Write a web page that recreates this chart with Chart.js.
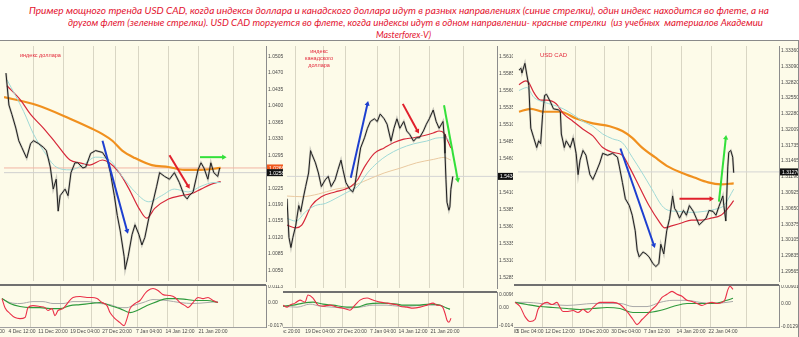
<!DOCTYPE html>
<html>
<head>
<meta charset="utf-8">
<script src="https://cdn.jsdelivr.net/npm/chart.js@4.4.0/dist/chart.umd.min.js"></script>
<style>
  html, body { margin: 0; padding: 0; background: #fff; }
  #wrap { position: relative; width: 799px; height: 337px; overflow: hidden; background: #fff; font-family: "Liberation Sans", Arial, sans-serif; }
  #area { position: absolute; left: 0; top: 40px; width: 799px; height: 297px; background: #fdfbe9; border-top: 1px solid #8a8a8a; }
  .t { position: absolute; white-space: pre; color: #e3132f; font-family: Lato, "Open Sans", sans-serif; font-style: italic; font-size: 10px; line-height: 12px; transform-origin: 0 0; }
  canvas { position: absolute; }
  .note { position: absolute; color: #e3283a; font-size: 5.5px; line-height: 7px; text-align: center; white-space: pre; }
  .sep { position: absolute; height: 2px; background: #707070; }
</style>
</head>
<body>
<div id="wrap">
  <div id="area"></div>
  <div class="t" data-x="29" data-w="740" style="top:4px">Пример мощного тренда USD CAD, когда индексы доллара и канадского доллара идут в разных направлениях (синие стрелки), один индекс находится во флете, а на</div>
  <div class="t" data-x="68" data-w="695" style="top:16px">другом флет (зеленые стрелки). USD CAD торгуется во флете, когда индексы идут в одном направлении- красные стрелки  (из учебных  материалов Академии</div>
  <div class="t" data-x="376" data-w="55" style="top:28px">Masterforex-V)</div>

  <canvas id="m1" width="283" height="243" style="left:0;top:42px"></canvas>
  <canvas id="o1" width="283" height="52" style="left:0;top:285px"></canvas>
  <canvas id="m2" width="230" height="250" style="left:283px;top:42px"></canvas>
  <canvas id="o2" width="230" height="45" style="left:283px;top:292px"></canvas>
  <canvas id="m3" width="285" height="243" style="left:514px;top:42px"></canvas>
  <canvas id="o3" width="285" height="52" style="left:514px;top:285px"></canvas>

  <div class="sep" style="left:0;top:284px;width:266px"></div>
  <div class="sep" style="left:283px;top:291px;width:214px"></div>
  <div class="sep" style="left:514px;top:284px;width:265px"></div>
  <div style="position:absolute;left:798px;top:41px;width:1px;height:296px;background:#8a8a8a"></div>

  <div class="note" style="left:20px;top:52px">индекс доллара</div>
  <div class="note" style="left:305px;top:48px">индекс
канадского
доллара</div>
  <div class="note" style="left:540px;top:52px;font-size:6px">USD CAD</div>
</div>

<script>
// ---- panel 1: dollar index ----
const p1Close = [[2,1.0470],[5,1.0402],[8,1.0382],[12,1.0353],[15,1.0326],[18,1.0312],[23,1.0289],[27,1.0320],[30,1.0326],[35,1.0320],[40,1.0312],[43,1.0305],[47,1.0270],[50,1.0223],[53,1.0244],[55,1.0176],[57,1.0209],[62,1.0223],[65,1.0209],[68,1.0258],[72,1.0279],[75,1.0279],[80,1.0268],[83,1.0270],[88,1.0299],[93,1.0305],[100,1.0301],[105,1.0285],[108,1.0258],[112,1.0209],[115,1.0167],[118,1.0134],[122,1.0079],[123,1.0052],[126,1.0079],[130,1.0126],[133,1.0147],[137,1.0126],[140,1.0104],[143,1.0120],[147,1.0161],[152,1.0202],[155,1.0229],[158,1.0258],[163,1.0250],[168,1.0244],[173,1.0258],[178,1.0237],[183,1.0209],[186,1.0202],[188,1.0209],[192,1.0217],[197,1.0264],[200,1.0279],[203,1.0268],[207,1.0244],[210,1.0279],[213,1.0258],[217,1.0250],[219,1.0268]];
const p1MaSlow = [[0,1.0419],[33,1.0402],[67,1.0373],[90,1.0351],[100,1.0340],[110,1.0326],[120,1.0305],[133,1.0289],[150,1.0274],[167,1.0270],[183,1.0264],[200,1.0264],[220,1.0268]];
const p1MaMid = [[3,1.0443],[17,1.0412],[27,1.0382],[40,1.0353],[53,1.0320],[67,1.0285],[77,1.0279],[87,1.0274],[100,1.0285],[107,1.0279],[117,1.0258],[127,1.0223],[137,1.0182],[145,1.0161],[153,1.0182],[167,1.0202],[180,1.0209],[190,1.0213],[200,1.0223],[210,1.0233],[220,1.0239]];
const p1MaFast = [[3,1.0456],[20,1.0388],[30,1.0340],[40,1.0305],[53,1.0270],[67,1.0264],[80,1.0274],[93,1.0291],[107,1.0285],[120,1.0250],[133,1.0217],[147,1.0196],[160,1.0209],[173,1.0223],[187,1.0217],[200,1.0229],[213,1.0237],[220,1.0237]];
const p1OscRed = [[2,0.0029],[5,-0.0037],[10,-0.0080],[15,-0.0109],[20,-0.0117],[25,-0.0109],[28,-0.0037],[33,-0.0022],[40,-0.0029],[45,-0.0037],[48,-0.0058],[52,-0.0044],[55,-0.0095],[58,-0.0058],[63,-0.0044],[68,0.0000],[73,0.0037],[80,0.0044],[87,0.0037],[92,0.0037],[97,0.0029],[102,0.0000],[107,-0.0022],[110,-0.0073],[115,-0.0117],[120,-0.0146],[124,-0.0168],[127,-0.0117],[130,-0.0044],[135,-0.0007],[140,0.0015],[145,0.0066],[148,0.0088],[153,0.0102],[158,0.0088],[163,0.0058],[170,0.0051],[175,0.0037],[180,0.0000],[185,-0.0022],[188,-0.0037],[193,0.0000],[198,0.0037],[203,0.0029],[208,0.0037],[213,0.0015],[218,0.0000]];
const p1OscGreen = [[2,0.0029],[10,-0.0007],[20,-0.0029],[30,-0.0037],[40,-0.0037],[50,-0.0044],[60,-0.0044],[70,-0.0022],[80,-0.0015],[90,-0.0007],[100,0.0000],[110,-0.0022],[120,-0.0044],[130,-0.0073],[137,-0.0058],[147,-0.0022],[157,0.0007],[167,0.0029],[177,0.0029],[187,0.0022],[197,0.0015],[207,0.0015],[218,0.0000]];
const p1OscGrey = [[2,0.0029],[10,0.0000],[20,-0.0007],[33,0.0007],[43,0.0007],[53,-0.0007],[63,-0.0007],[73,0.0007],[87,0.0007],[100,-0.0007],[110,-0.0015],[120,-0.0037],[127,-0.0037],[133,-0.0022],[143,0.0000],[153,0.0022],[167,0.0015],[180,0.0000],[193,-0.0007],[207,0.0000],[218,0.0007]];
const p1Ticks = [1.0505,1.0470,1.0435,1.0400,1.0365,1.0330,1.0295,1.0260,1.0225,1.0190,1.0155,1.0120,1.0085,1.0050];
const p1OscTicks = [0.01135, 0, -0.01707];
const p1OscText = ['0.01135', '0.00', '-0.01707'];
const p1Bid = [1.0268, 1.0258];
const p1GridX = [30,60,91,113,137,167,197,233];
const p1DateX = [2,22,53,85,117,149,180,213];
const p1DateText = ['00','4 Dec 12:00','11 Dec 20:00','19 Dec 04:00','27 Dec 20:00','7 Jan 04:00','14 Jan 12:00','21 Jan 20:00'];
const p1ArrowBlue = [100,1.0326,125,1.0134];
const p1ArrowRed = [168,1.0295,187,1.0229];
const p1ArrowGreen = [199,1.0291,223,1.0291];

// ---- panel 2: canadian dollar index ----
const p2Close = [[0,1.5401],[2,1.5344],[4,1.5329],[6,1.5344],[9,1.5362],[10,1.5372],[12,1.5391],[14,1.5382],[17,1.5405],[19,1.5419],[22,1.5439],[24,1.5472],[25,1.5468],[29,1.5454],[32,1.5439],[35,1.5419],[39,1.5429],[42,1.5434],[45,1.5419],[49,1.5429],[52,1.5444],[55,1.5458],[57,1.5444],[60,1.5425],[64,1.5415],[67,1.5411],[69,1.5419],[72,1.5448],[75,1.5476],[79,1.5491],[82,1.5505],[85,1.5515],[89,1.5519],[92,1.5515],[95,1.5526],[99,1.5519],[102,1.5511],[106,1.5486],[109,1.5505],[112,1.5519],[115,1.5505],[119,1.5515],[122,1.5501],[125,1.5496],[129,1.5486],[132,1.5491],[135,1.5491],[139,1.5501],[142,1.5511],[145,1.5519],[149,1.5532],[152,1.5515],[155,1.5505],[159,1.5515],[160,1.5496],[161,1.5468],[162,1.5429],[163,1.5396],[165,1.5384],[166,1.5389],[167,1.5415],[169,1.5434]];
const p2MaSlow = [[0,1.5405],[15,1.5404],[32,1.5408],[49,1.5415],[65,1.5419],[82,1.5429],[99,1.5439],[115,1.5446],[132,1.5454],[149,1.5459],[160,1.5462],[167,1.5458]];
const p2MaMid = [[0,1.5362],[9,1.5358],[15,1.5362],[25,1.5391],[35,1.5404],[49,1.5411],[59,1.5415],[65,1.5419],[72,1.5429],[79,1.5448],[89,1.5468],[99,1.5476],[109,1.5484],[119,1.5489],[129,1.5491],[139,1.5494],[149,1.5498],[155,1.5501],[160,1.5498],[164,1.5486],[167,1.5476]];
const p2MaFast = [[0,1.5372],[9,1.5368],[19,1.5382],[29,1.5391],[39,1.5394],[49,1.5401],[62,1.5411],[72,1.5419],[82,1.5439],[92,1.5454],[102,1.5465],[115,1.5475],[129,1.5482],[142,1.5486],[155,1.5491],[162,1.5491],[167,1.5482]];
const p2OscRed = [[0,0.0016],[4,0.0000],[7,0.0016],[12,0.0032],[17,0.0056],[22,0.0040],[25,0.0096],[30,0.0072],[35,0.0016],[40,0.0008],[47,0.0016],[54,0.0000],[60,-0.0008],[67,-0.0024],[72,0.0016],[77,0.0056],[84,0.0072],[90,0.0056],[97,0.0040],[104,0.0032],[110,0.0024],[115,0.0016],[117,0.0008],[124,0.0000],[130,-0.0008],[137,0.0000],[144,0.0016],[150,0.0032],[154,0.0016],[159,0.0008],[162,-0.0048],[164,-0.0104],[166,-0.0120],[168,-0.0088]];
const p2OscGreen = [[0,0.0008],[10,0.0016],[20,0.0032],[30,0.0040],[40,0.0024],[50,0.0016],[64,0.0000],[74,0.0000],[84,0.0024],[97,0.0032],[114,0.0024],[120,0.0016],[134,0.0016],[147,0.0024],[157,0.0016],[164,-0.0008],[167,-0.0016]];
const p2OscGrey = [[0,0.0008],[14,0.0000],[27,0.0024],[37,0.0008],[50,0.0000],[64,-0.0008],[77,0.0000],[90,0.0016],[104,0.0016],[115,0.0008],[127,0.0008],[140,0.0016],[154,0.0016],[164,-0.0008],[167,-0.0016]];
const p2Ticks = [1.5610,1.5585,1.5560,1.5535,1.5510,1.5485,1.5460,1.5435,1.5410,1.5385,1.5360,1.5335,1.5310,1.5285];
const p2OscTicks = [0.00962, 0, -0.01493];
const p2OscText = ['0.00962', '0.00', '-0.01493'];
const p2Bid = [1.5434];
const p2GridX = [9,37,60,92,115,145,180];
const p2DateX = [6,37,69,100,130,162];
const p2DateText = ['Dec 20:00','19 Dec 04:00','27 Dec 20:00','7 Jan 04:00','14 Jan 12:00','21 Jan 20:00'];
const p2ArrowBlue = [65,1.5432,82,1.5541];
const p2ArrowRed = [118,1.5541,133,1.5501];
const p2ArrowGreen = [160,1.5539,174,1.5429];

// ---- panel 3: USD CAD ----
const p3Close = [[1,1.33026],[3,1.33059],[4,1.32976],[7,1.33143],[9,1.32943],[11,1.32760],[12,1.32361],[13,1.32028],[16,1.31861],[19,1.31695],[21,1.31811],[23,1.31761],[25,1.32261],[27,1.32593],[29,1.32610],[33,1.32477],[36,1.32361],[41,1.32344],[43,1.32311],[44,1.31928],[47,1.31695],[49,1.31811],[53,1.31695],[56,1.31861],[59,1.31595],[61,1.31229],[63,1.31479],[66,1.31645],[69,1.31562],[73,1.31229],[76,1.31146],[79,1.31262],[83,1.31429],[86,1.31595],[91,1.31562],[96,1.31595],[101,1.31529],[103,1.31362],[106,1.31096],[109,1.30813],[113,1.30697],[116,1.30530],[119,1.30264],[121,1.29931],[123,1.29815],[127,1.29898],[130,1.29865],[133,1.29815],[137,1.29698],[140,1.29648],[143,1.29698],[145,1.30031],[148,1.29865],[151,1.30264],[154,1.30480],[157,1.30863],[159,1.30647],[161,1.30597],[164,1.30480],[168,1.30613],[171,1.30530],[174,1.30697],[178,1.30597],[181,1.30480],[184,1.30364],[188,1.30430],[191,1.30480],[194,1.30613],[198,1.30597],[201,1.30530],[204,1.30680],[208,1.30863],[209,1.30697],[211,1.30430],[213,1.31362],[214,1.31612],[216,1.31645],[218,1.31529],[219,1.31262]];
const p3MaSlow = [[1,1.32311],[13,1.32361],[26,1.32311],[43,1.32311],[59,1.32194],[76,1.32111],[93,1.32061],[106,1.31978],[116,1.31861],[126,1.31695],[139,1.31529],[153,1.31362],[166,1.31262],[179,1.31179],[193,1.31096],[206,1.31063],[219,1.31079]];
const p3MaMid = [[1,1.32777],[8,1.32843],[11,1.32810],[16,1.32643],[23,1.32510],[29,1.32510],[39,1.32444],[46,1.32277],[56,1.32144],[66,1.32011],[76,1.31895],[86,1.31695],[96,1.31612],[106,1.31562],[113,1.31362],[123,1.31029],[133,1.30697],[143,1.30430],[149,1.30314],[156,1.30347],[166,1.30397],[176,1.30447],[186,1.30447],[196,1.30480],[206,1.30530],[213,1.30647],[219,1.30780]];
const p3MaFast = [[1,1.32677],[9,1.32727],[16,1.32560],[26,1.32477],[36,1.32427],[46,1.32361],[56,1.32261],[66,1.32144],[76,1.32061],[86,1.31928],[96,1.31845],[106,1.31778],[116,1.31529],[126,1.31262],[136,1.30979],[146,1.30697],[153,1.30613],[163,1.30597],[176,1.30580],[189,1.30597],[203,1.30647],[209,1.30697],[219,1.30979]];
const p3OscRed = [[1,0.0006],[6,-0.0017],[11,-0.0072],[16,-0.0099],[21,-0.0088],[24,-0.0033],[28,-0.0006],[33,0.0006],[38,-0.0006],[43,0.0006],[46,-0.0022],[49,-0.0044],[54,-0.0044],[59,-0.0039],[64,-0.0050],[69,-0.0033],[74,-0.0050],[79,-0.0022],[86,0.0006],[93,0.0006],[99,0.0006],[106,-0.0006],[113,-0.0044],[119,-0.0088],[123,-0.0116],[128,-0.0088],[133,-0.0061],[138,-0.0033],[143,-0.0006],[148,0.0033],[153,0.0050],[158,0.0066],[163,0.0050],[168,0.0039],[173,0.0017],[178,0.0011],[183,0.0000],[188,-0.0011],[193,0.0000],[198,0.0006],[203,0.0000],[208,0.0006],[211,0.0022],[214,0.0077],[216,0.0094],[219,0.0077]];
const p3OscGreen = [[1,0.0006],[13,-0.0006],[26,-0.0017],[39,-0.0022],[53,-0.0028],[66,-0.0033],[79,-0.0028],[93,-0.0022],[106,-0.0028],[119,-0.0050],[133,-0.0050],[146,-0.0039],[159,-0.0017],[173,0.0000],[186,0.0000],[199,0.0000],[213,0.0017],[219,0.0028]];
const p3OscGrey = [[1,0.0006],[13,0.0006],[26,0.0000],[39,-0.0006],[53,-0.0011],[66,-0.0006],[79,0.0000],[93,0.0000],[106,0.0000],[119,-0.0017],[133,-0.0017],[146,0.0006],[159,0.0017],[173,0.0017],[186,0.0006],[199,0.0000],[213,0.0006],[219,0.0011]];
const p3Ticks = [1.33360,1.33090,1.32820,1.32550,1.32280,1.32009,1.31735,1.31465,1.31196,1.30925,1.30650,1.30375,1.30105,1.29835,1.29565];
const p3OscTicks = [0.009015, 0, -0.012914];
const p3OscText = ['0.009015', '0.00', '-0.012914'];
const p3Bid = [1.31276];
const p3GridX = [28,58,88,112,136,166,196,232];
const p3DateX = [1,16,46,80,112,143,177,209];
const p3DateText = ['00','5 Dec 04:00','12 Dec 12:00','19 Dec 20:00','30 Dec 04:00','7 Jan 12:00','14 Jan 20:00','22 Jan 04:00'];
const p3ArrowBlue = [104,1.31678,138,1.30014];
const p3ArrowRed = [164,1.30813,196,1.30813];
const p3ArrowGreen = [204,1.30763,211,1.31861];

// ---- helpers ----
const FONT = {size: 5, family: 'Liberation Sans'};
const pts = a => a.map(p => ({x: p[0], y: p[1]}));

function line(data, color, width, order, smooth) {
  return {data: pts(data), borderColor: color, borderWidth: width, pointRadius: 0, order: order,
    cubicInterpolationMode: smooth ? 'monotone' : 'default', tension: 0, fill: false};
}

function arrowAngle(ctx) {
  const c = ctx.chart, d = ctx.dataset.data;
  const dx = c.scales.x.getPixelForValue(d[1].x) - c.scales.x.getPixelForValue(d[0].x);
  const dy = c.scales.y.getPixelForValue(d[1].y) - c.scales.y.getPixelForValue(d[0].y);
  return Math.atan2(dx, -dy) * 180 / Math.PI;
}

function arrow(a, color) {
  return {data: [{x: a[0], y: a[1]}, {x: a[2], y: a[3]}], borderColor: color, borderWidth: 2,
    pointRadius: [0, 3], pointStyle: 'triangle', pointBackgroundColor: color, pointBorderWidth: 0,
    pointRotation: arrowAngle, order: 0, clip: false};
}

function bidLine(v, xMax, color) {
  return {data: [{x: 0, y: v}, {x: xMax, y: v}], borderColor: color, borderWidth: 1, pointRadius: 0, order: 9};
}

const markPlugin = {
  id: 'marks',
  afterDraw(chart, args, opts) {
    const ys = chart.scales.y, ctx = chart.ctx, a = chart.chartArea;
    (opts.items || []).forEach(m => {
      const y = ys.getPixelForValue(m.v);
      ctx.save();
      ctx.fillStyle = m.bg;
      ctx.fillRect(a.right + 1, y - 3.5, chart.width - a.right - 1, 7);
      ctx.fillStyle = '#fff';
      ctx.font = '5px "Liberation Sans"';
      ctx.textBaseline = 'middle';
      ctx.fillText(m.v.toFixed(m.d), a.right + 3, y + 0.5);
      ctx.restore();
    });
  }
};

function yAxis(min, max, ticks, w, fmt) {
  return {
    position: 'right', min: min, max: max,
    afterBuildTicks: s => { s.ticks = ticks.map(v => ({value: v})); },
    afterFit: s => { s.width = w; s.paddingTop = 0; s.paddingBottom = 0; },
    ticks: {autoSkip: false, font: FONT, color: '#4a4a4a', padding: 2, callback: fmt},
    grid: {display: false, drawTicks: false},
    border: {display: true, color: '#8c8c8c', width: 1}
  };
}

function gridAxis(xMax, gridX) {
  return {
    type: 'linear', position: 'bottom', min: 0, max: xMax,
    afterBuildTicks: s => { s.ticks = gridX.map(v => ({value: v})); },
    afterFit: s => { s.height = 0; s.paddingLeft = 0; s.paddingRight = 0; },
    ticks: {display: false},
    grid: {color: '#d9d6c4', drawTicks: false, lineWidth: 1},
    border: {display: false}
  };
}

function dateAxis(xMax, dateX, texts) {
  return {
    type: 'linear', position: 'bottom', min: 0, max: xMax,
    afterBuildTicks: s => { s.ticks = dateX.map(v => ({value: v})); },
    afterFit: s => { s.height = 10; s.paddingLeft = 0; s.paddingRight = 0; },
    ticks: {autoSkip: false, maxRotation: 0, minRotation: 0, padding: 2, font: FONT, color: '#4a4a4a',
      callback: (v, i) => texts[i]},
    grid: {display: false, drawTicks: false},
    border: {display: true, color: '#a0a0a0'}
  };
}

const baseOpts = {responsive: false, animation: false, events: [], layout: {padding: 0}};

function panel(p) {
  const main = [
    arrow(p.arrowBlue, '#1d3fd0'),
    arrow(p.arrowRed, '#e0202c'),
    arrow(p.arrowGreen, '#33e03a'),
    line(p.close, '#1e1e1e', 1, 1, false),
    line(p.close, 'rgba(110,110,110,0.35)', 2.2, 2, false),
    line(p.maFast, '#9fd9d6', 1, 3, true),
    line(p.maMid, '#d6283a', 1.2, 4, true),
    line(p.maSlow, p.slowColor, p.slowWidth, 5, true)
  ];
  p.bid.forEach((v, i) => main.push(bidLine(v, p.xMax, i === 0 ? p.bidColor : '#cfcfcf')));

  new Chart(document.getElementById(p.mainId), {
    type: 'line',
    data: {datasets: main},
    options: Object.assign({}, baseOpts, {
      plugins: {legend: {display: false}, tooltip: {enabled: false},
        marks: {items: p.bid.map((v, i) => ({v: v, d: p.dec, bg: i === 0 ? p.markColor : '#111'}))}},
      scales: {
        x: gridAxis(p.xMax, p.gridX),
        y: yAxis(p.yMin, p.yMax, p.ticks, p.axisW, v => v.toFixed(p.dec))
      }
    }),
    plugins: [markPlugin]
  });

  new Chart(document.getElementById(p.oscId), {
    type: 'line',
    data: {datasets: [
      line(p.oscRed, '#ea3048', 1.1, 1, true),
      line(p.oscGreen, '#2e9a3c', 1.1, 2, true),
      line(p.oscGrey, '#a9a9a9', 1, 3, true)
    ]},
    options: Object.assign({}, baseOpts, {
      plugins: {legend: {display: false}, tooltip: {enabled: false}},
      scales: {
        x: gridAxis(p.xMax, p.gridX),
        x2: dateAxis(p.xMax, p.dateX, p.dateText),
        y: yAxis(p.oscMin, p.oscMax, p.oscTicks, p.axisW, (v, i) => p.oscText[i])
      }
    })
  });
}

panel({mainId: 'm1', oscId: 'o1', xMax: 266, axisW: 17, dec: 4,
  yMin: 1.00273, yMax: 1.05277, ticks: p1Ticks, close: p1Close,
  maSlow: p1MaSlow, maMid: p1MaMid, maFast: p1MaFast, slowColor: '#f0901e', slowWidth: 2.2,
  bid: p1Bid, bidColor: '#f2b5a4', markColor: '#f05a1e',
  arrowBlue: p1ArrowBlue, arrowRed: p1ArrowRed, arrowGreen: p1ArrowGreen,
  gridX: p1GridX, dateX: p1DateX, dateText: p1DateText,
  oscRed: p1OscRed, oscGreen: p1OscGreen, oscGrey: p1OscGrey,
  oscMin: -0.0178, oscMax: 0.0128, oscTicks: p1OscTicks, oscText: p1OscText});

panel({mainId: 'm2', oscId: 'o2', xMax: 214, axisW: 16, dec: 4,
  yMin: 1.52693, yMax: 1.56264, ticks: p2Ticks, close: p2Close,
  maSlow: p2MaSlow, maMid: p2MaMid, maFast: p2MaFast, slowColor: '#e9c9a0', slowWidth: 1,
  bid: p2Bid, bidColor: '#d4d4d4', markColor: '#111',
  arrowBlue: p2ArrowBlue, arrowRed: p2ArrowRed, arrowGreen: p2ArrowGreen,
  gridX: p2GridX, dateX: p2DateX, dateText: p2DateText,
  oscRed: p2OscRed, oscGreen: p2OscGreen, oscGrey: p2OscGrey,
  oscMin: -0.0157, oscMax: 0.0120, oscTicks: p2OscTicks, oscText: p2OscText});

panel({mainId: 'm3', oscId: 'o3', xMax: 265, axisW: 20, dec: 5,
  yMin: 1.29399, yMax: 1.33442, ticks: p3Ticks, close: p3Close,
  maSlow: p3MaSlow, maMid: p3MaMid, maFast: p3MaFast, slowColor: '#f0901e', slowWidth: 2.2,
  bid: p3Bid, bidColor: '#d4d4d4', markColor: '#111',
  arrowBlue: p3ArrowBlue, arrowRed: p3ArrowRed, arrowGreen: p3ArrowGreen,
  gridX: p3GridX, dateX: p3DateX, dateText: p3DateText,
  oscRed: p3OscRed, oscGreen: p3OscGreen, oscGrey: p3OscGrey,
  oscMin: -0.0129, oscMax: 0.0101, oscTicks: p3OscTicks, oscText: p3OscText});

// fit title lines to the widths they take in the picture
document.querySelectorAll('.t').forEach(el => {
  const w = el.getBoundingClientRect().width;
  el.style.left = el.dataset.x + 'px';
  el.style.transform = 'scaleX(' + (el.dataset.w / w) + ')';
});
</script>
</body>
</html>
